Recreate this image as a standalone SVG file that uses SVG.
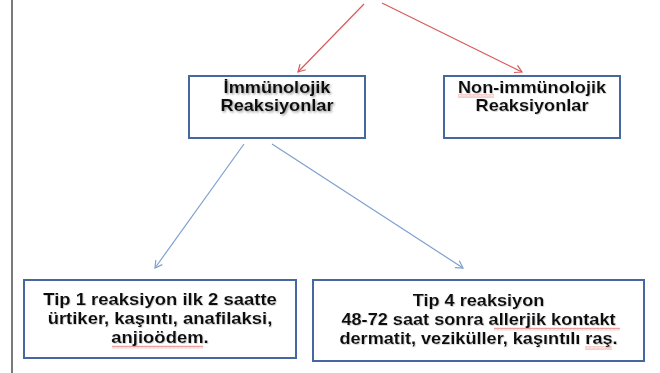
<svg xmlns="http://www.w3.org/2000/svg" width="660" height="373" viewBox="0 0 660 373">
<style>
.box{fill:#ffffff;stroke:#45689f;stroke-width:2}
.t{font-family:"Liberation Sans",Arial,sans-serif;font-weight:bold;font-size:16.5px;fill:#111;text-anchor:middle}
.red{stroke:#d9595b;stroke-width:1.2;fill:none}
.blue{stroke:#7fa0cd;stroke-width:1.2;fill:none}
.sq{fill:url(#squiggle)}
</style>
<defs>
<filter id="shadow" x="-10%" y="-30%" width="120%" height="160%">
<feDropShadow dx="1.3" dy="1.3" stdDeviation="0.8" flood-color="#666" flood-opacity="0.7"/>
</filter>
<filter id="shadow2" x="-10%" y="-30%" width="120%" height="160%">
<feDropShadow dx="0.8" dy="0.8" stdDeviation="0.7" flood-color="#999" flood-opacity="0.5"/>
</filter>
<marker id="arrR" markerWidth="10" markerHeight="10" refX="8" refY="5" orient="auto" markerUnits="userSpaceOnUse">
<path d="M1,1 L8,5 L1,9" fill="none" stroke="#d9595b" stroke-width="1.2"/>
</marker>
<marker id="arrB" markerWidth="10" markerHeight="10" refX="8" refY="5" orient="auto" markerUnits="userSpaceOnUse">
<path d="M1,1 L8,5 L1,9" fill="none" stroke="#7fa0cd" stroke-width="1.2"/>
</marker>
<pattern id="squiggle" width="4" height="3" patternUnits="userSpaceOnUse">
<polyline points="0,2.5 1,0.5 2,2.5 3,0.5 4,2.5" fill="none" stroke="#e06060" stroke-width="0.6"/>
</pattern>
</defs>
<rect x="0" y="0" width="660" height="373" fill="#ffffff"/>
<line x1="12" y1="0" x2="12" y2="373" stroke="#7a7a7a" stroke-width="2"/>

<g id="connectors">
<line class="red" x1="364" y1="4" x2="298" y2="72" marker-end="url(#arrR)"/>
<line class="red" x1="382" y1="3" x2="522" y2="72" marker-end="url(#arrR)"/>
<line class="blue" x1="244" y1="144" x2="155" y2="268" marker-end="url(#arrB)"/>
<line class="blue" x1="272" y1="144" x2="463" y2="268" marker-end="url(#arrB)"/>
</g>

<g id="immunolojik">
<rect class="box" x="189" y="76" width="176" height="62"/>
<g filter="url(#shadow)">
<text class="t" transform="translate(277 92.5) scale(1.1 1)">İmmünolojik</text>
<text class="t" transform="translate(277 111) scale(1.1 1)">Reaksiyonlar</text>
</g>
</g>

<g id="non-immunolojik">
<rect class="box" x="444" y="76" width="176" height="62"/>
<g filter="url(#shadow2)">
<text class="t" transform="translate(532 92.5) scale(1.1 1)">Non-immünolojik</text>
<text class="t" transform="translate(532 111) scale(1.1 1)">Reaksiyonlar</text>
</g>
<rect class="sq" x="458" y="94.5" width="36" height="3"/>
</g>

<g id="tip1">
<rect class="box" x="24" y="280" width="272" height="78"/>
<g filter="url(#shadow2)">
<text class="t" transform="translate(160 305) scale(1.12 1)">Tip 1 reaksiyon ilk 2 saatte</text>
<text class="t" transform="translate(160 324) scale(1.12 1)">ürtiker, kaşıntı, anafilaksi,</text>
<text class="t" transform="translate(160 343) scale(1.12 1)">anjioödem.</text>
</g>
<rect class="sq" x="112" y="345.5" width="91" height="3"/>
</g>

<g id="tip4">
<rect class="box" x="313" y="280" width="331" height="81"/>
<g filter="url(#shadow2)">
<text class="t" transform="translate(478.5 306) scale(1.1 1)">Tip 4 reaksiyon</text>
<text class="t" transform="translate(478.5 325) scale(1.1 1)">48-72 saat sonra allerjik kontakt</text>
<text class="t" transform="translate(478.5 344) scale(1.1 1)">dermatit, veziküller, kaşıntılı raş.</text>
</g>
<rect class="sq" x="494" y="327.5" width="126" height="3"/>
<rect class="sq" x="585" y="346.5" width="27" height="3"/>
</g>
</svg>
